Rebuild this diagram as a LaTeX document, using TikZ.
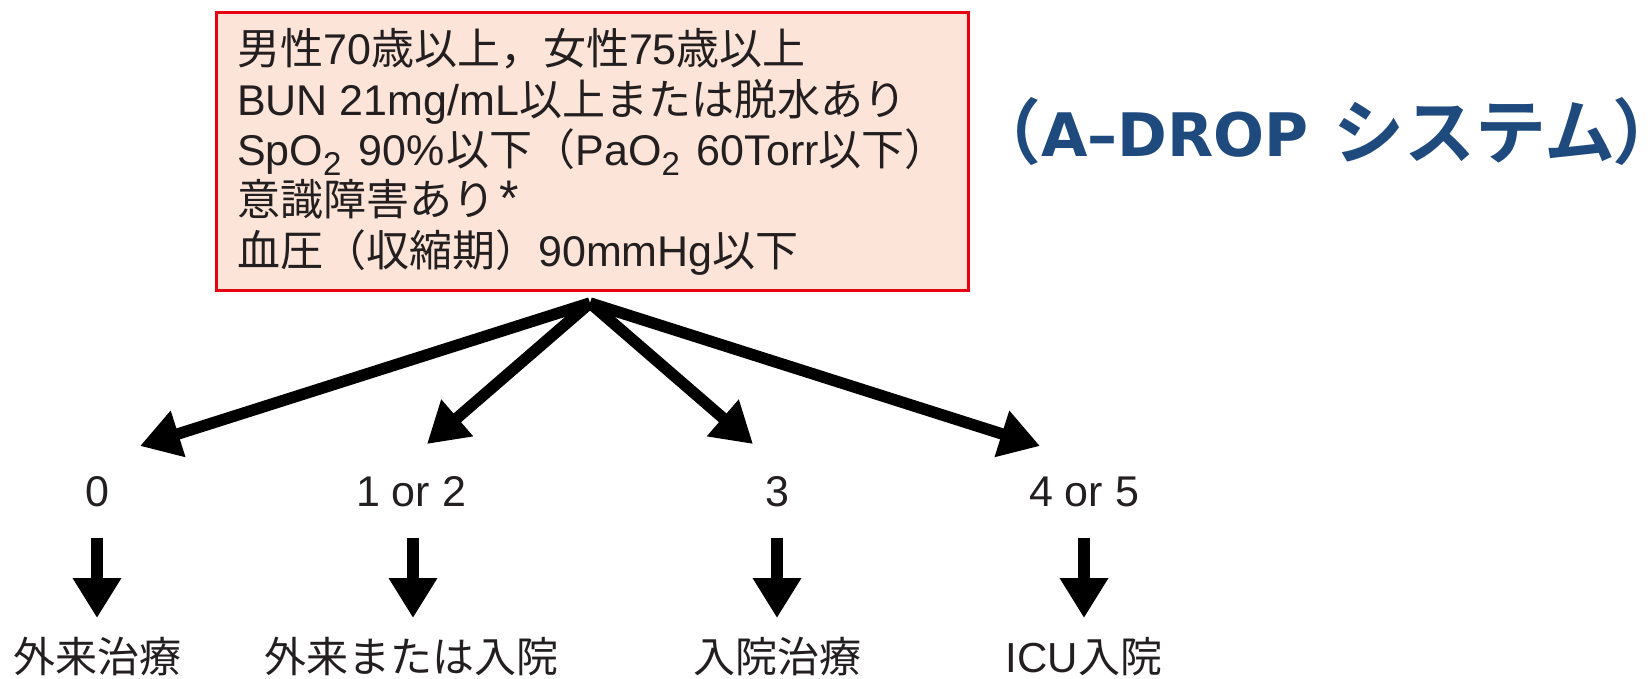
\documentclass[tikz,border=0pt]{standalone}
\usepackage{fontspec}
\setmainfont{Liberation Sans}
\newfontfamily\jp{Noto Sans CJK JP}[BoldFont={Noto Sans CJK JP Bold}]
\newfontfamily\jpp{Noto Sans CJK JP}[BoldFont={Noto Sans CJK JP Bold},RawFeature=+palt]
\newfontfamily\dv{DejaVu Sans}
\usetikzlibrary{arrows.meta}
\definecolor{boxred}{RGB}{230,0,18}
\definecolor{boxfill}{RGB}{253,228,216}
\definecolor{titleblue}{RGB}{31,74,125}
\definecolor{inkc}{RGB}{35,31,32}
\newcommand\J[1]{{\jp #1}}
\newcommand\subtwo{\raisebox{-0.22em}{\fontsize{33}{33}\selectfont 2}}
\newcommand\bigjp[1]{\raisebox{-2pt}{\jp\bfseries\fontsize{71}{71}\selectfont #1}}
\newcommand\bigjpp[1]{\raisebox{-2pt}{\jpp\bfseries\fontsize{71}{71}\selectfont #1}}
\begin{document}
\begin{tikzpicture}[x=1pt,y=-1pt,
  txt/.style={text=inkc, inner sep=0pt, font=\fontsize{43}{50}\selectfont},
  res/.style={text=inkc, inner sep=0pt, font=\fontsize{42}{50}\selectfont},
  bigarrow/.style={line width=11.5pt, -{Triangle[length=40pt,width=46pt]}},
]
\useasboundingbox (0,0) rectangle (1652,679);
\node (box) [anchor=north west, draw=boxred, line width=3pt, fill=boxfill,
  minimum width=752pt, minimum height=277pt, inner sep=0pt] at (214.5,11.5) {};
\node (l1) [txt, anchor=base west] at (237,65) {\J{男性}70\J{歳以上，女性}75\J{歳以上}};
\node (l2) [txt, anchor=base west] at (237,115.5) {BUN 21mg/mL\J{以上または脱水あり}};
\node (l3) [txt, anchor=base west] at (237,166) {SpO\subtwo\hspace{5pt} 90\%\hspace{2pt}\J{以下（}PaO\subtwo\hspace{5pt} 60Torr\J{以下）}};
\node (l4) [txt, anchor=base west] at (237,216) {\J{意識障害あり}\hspace{4pt}{\fontsize{50}{50}\selectfont *}};
\node (l5) [txt, anchor=base west] at (237,266.5) {\J{血圧（収縮期）}90mmHg\J{以下}};

\node (title) [anchor=base west, text=titleblue, inner sep=0pt,
  font=\fontsize{60}{60}\selectfont] at (970,157)
  {\bigjp{（}{\dv\bfseries A–DROP}\hspace{25pt}\bigjp{システム}\bigjpp{）}};

\coordinate (apex) at (590,303);
\coordinate (t0) at (140,446);
\coordinate (t1) at (427,444);
\coordinate (t2) at (753,444);
\coordinate (t3) at (1040,446);
\draw[bigarrow] (apex) -- (t0);
\draw[bigarrow] (apex) -- (t1);
\draw[bigarrow] (apex) -- (t2);
\draw[bigarrow] (apex) -- (t3);

\node (n0) [txt, anchor=base] at (97,506) {0};
\node (n1) [txt, anchor=base] at (411,506) {1 or 2};
\node (n2) [txt, anchor=base] at (777,506) {3};
\node (n3) [txt, anchor=base] at (1084,506) {4 or 5};

\node (r0) [res, anchor=base] at (97,672) {\J{外来治療}};
\node (r1) [res, anchor=base] at (411,672) {\J{外来または入院}};
\node (r2) [res, anchor=base] at (777,672) {\J{入院治療}};
\node (r3) [res, anchor=base] at (1084,672) {ICU\J{入院}};

\coordinate (v0s) at (97,538);  \coordinate (v0e) at (97,618);
\coordinate (v1s) at (413,538); \coordinate (v1e) at (413,618);
\coordinate (v2s) at (777,538); \coordinate (v2e) at (777,618);
\coordinate (v3s) at (1084,538);\coordinate (v3e) at (1084,618);
\draw[bigarrow] (v0s) -- (v0e);
\draw[bigarrow] (v1s) -- (v1e);
\draw[bigarrow] (v2s) -- (v2e);
\draw[bigarrow] (v3s) -- (v3e);
\end{tikzpicture}
\end{document}
